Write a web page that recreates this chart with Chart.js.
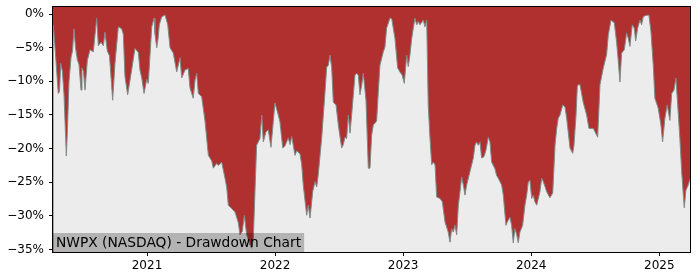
<!DOCTYPE html>
<html>
<head>
<meta charset="utf-8">
<script src="https://cdn.jsdelivr.net/npm/chart.js@4"></script>
<style>
  html, body { margin: 0; padding: 0; background: #fff; }
</style>
</head>
<body>
<canvas id="ddChart" width="700" height="280"></canvas>
<script>
// decimal years and drawdown (%)
const years = [
  2020.268, 2020.282, 2020.307, 2020.317, 2020.326, 2020.339, 2020.352, 2020.360, 2020.370, 2020.379,
  2020.391, 2020.407, 2020.418, 2020.430, 2020.442, 2020.456, 2020.469, 2020.485, 2020.492, 2020.504,
  2020.516, 2020.534, 2020.555, 2020.581, 2020.607, 2020.620, 2020.641, 2020.659, 2020.672, 2020.690,
  2020.707, 2020.732, 2020.750, 2020.776, 2020.802, 2020.815, 2020.828, 2020.849, 2020.881, 2020.906,
  2020.932, 2020.945, 2020.959, 2020.977, 2020.998, 2021.010, 2021.037, 2021.055, 2021.062, 2021.076,
  2021.086, 2021.096, 2021.115, 2021.141, 2021.162, 2021.180, 2021.205, 2021.232, 2021.258, 2021.271,
  2021.297, 2021.322, 2021.336, 2021.361, 2021.375, 2021.388, 2021.401, 2021.427, 2021.453, 2021.479,
  2021.505, 2021.518, 2021.544, 2021.557, 2021.583, 2021.609, 2021.622, 2021.635, 2021.661, 2021.687,
  2021.713, 2021.726, 2021.744, 2021.760, 2021.778, 2021.804, 2021.817, 2021.830, 2021.843, 2021.856,
  2021.882, 2021.896, 2021.908, 2021.929, 2021.947, 2021.968, 2021.986, 2021.999, 2022.025, 2022.038,
  2022.060, 2022.077, 2022.103, 2022.117, 2022.130, 2022.156, 2022.169, 2022.195, 2022.208, 2022.220,
  2022.247, 2022.259, 2022.273, 2022.294, 2022.312, 2022.325, 2022.337, 2022.364, 2022.390, 2022.403,
  2022.416, 2022.429, 2022.442, 2022.455, 2022.476, 2022.494, 2022.520, 2022.533, 2022.546, 2022.559,
  2022.572, 2022.585, 2022.598, 2022.624, 2022.637, 2022.650, 2022.663, 2022.676, 2022.689, 2022.710,
  2022.728, 2022.741, 2022.754, 2022.767, 2022.793, 2022.806, 2022.819, 2022.845, 2022.858, 2022.871,
  2022.897, 2022.911, 2022.936, 2022.957, 2022.975, 2022.993, 2023.009, 2023.028, 2023.040, 2023.053,
  2023.067, 2023.092, 2023.106, 2023.118, 2023.131, 2023.157, 2023.170, 2023.184, 2023.196, 2023.210,
  2023.223, 2023.235, 2023.249, 2023.262, 2023.288, 2023.306, 2023.327, 2023.352, 2023.366, 2023.379,
  2023.391, 2023.405, 2023.418, 2023.431, 2023.444, 2023.457, 2023.470, 2023.483, 2023.496, 2023.522,
  2023.548, 2023.561, 2023.574, 2023.587, 2023.600, 2023.613, 2023.631, 2023.647, 2023.665, 2023.678,
  2023.691, 2023.717, 2023.730, 2023.743, 2023.769, 2023.782, 2023.803, 2023.813, 2023.834, 2023.847,
  2023.860, 2023.873, 2023.887, 2023.899, 2023.912, 2023.933, 2023.951, 2023.965, 2023.977, 2023.990,
  2024.004, 2024.016, 2024.029, 2024.043, 2024.068, 2024.082, 2024.094, 2024.107, 2024.121, 2024.146,
  2024.168, 2024.186, 2024.199, 2024.211, 2024.225, 2024.246, 2024.264, 2024.277, 2024.289, 2024.303,
  2024.324, 2024.334, 2024.350, 2024.360, 2024.367, 2024.381, 2024.406, 2024.433, 2024.451, 2024.485,
  2024.498, 2024.519, 2024.537, 2024.563, 2024.589, 2024.602, 2024.623, 2024.649, 2024.667, 2024.680,
  2024.693, 2024.706, 2024.727, 2024.745, 2024.758, 2024.771, 2024.789, 2024.805, 2024.816, 2024.831,
  2024.849, 2024.862, 2024.875, 2024.894, 2024.919, 2024.935, 2024.953, 2024.966, 2024.992, 2025.013,
  2025.026, 2025.044, 2025.062, 2025.083, 2025.097, 2025.115, 2025.130, 2025.144, 2025.161, 2025.175,
  2025.195, 2025.208, 2025.226, 2025.240
];
const drawdown = [
  -1.6, -5, -11.8, -11.5, -7.3, -8.5, -12, -16, -21.1, -17,
  -10, -6.4, -5.5, -2.2, -5, -6.8, -7.5, -11.3, -8, -8.5,
  -11.3, -6.9, -5.3, -5.6, -0.6, -4.7, -4.2, -4.7, -2.7, -5.5,
  -6.2, -12.8, -7.3, -1.9, -2.2, -3, -9.3, -12, -8.2, -5.1,
  -5.7, -8.3, -9.5, -11.8, -9.7, -10.3, -1.9, -0.6, -2.9, -5,
  -3.7, -1.6, -0.4, -0.15, -1.6, -5, -5.8, -8.6, -6.5, -9.5,
  -8.3, -8.1, -11, -12.5, -9.8, -8.8, -11.8, -12.3, -15.9, -21,
  -21.8, -22.9, -22.2, -22.5, -22, -24.4, -25.7, -28.4, -28.9, -29.4,
  -31, -32.8, -32.3, -29.9, -32.8, -34.3, -34.8, -33.5, -26.4, -19.5,
  -18.5, -15, -19, -17.5, -17.2, -19.8, -16, -13.2, -15, -16,
  -19.9, -19.6, -18.4, -19.4, -18.2, -21, -20.3, -20.8, -22.4, -25.4,
  -29.9, -28.4, -30.3, -26.4, -24.9, -25.7, -23.9, -18.4, -11.6, -7.9,
  -7.6, -6.1, -7.9, -13.1, -13.5, -16.5, -19.9, -19.4, -18.3, -18.5,
  -15, -17.7, -15, -9.1, -8.8, -9.1, -12, -10.6, -8.8, -12.8,
  -22.9, -22.9, -18, -16.5, -15.9, -11.6, -7.6, -5.6, -4.9, -2.1,
  -0.6, -0.7, -3.6, -8, -8.6, -9.1, -10.3, -6.1, -7.8, -6.1,
  -3.6, -0.6, -1.6, -1.1, -1.6, -0.9, -1.9, -0.9, -13.5, -18.5,
  -22.4, -22, -22.4, -27.2, -27.4, -27.9, -30.9, -32.4, -33.9, -31.9,
  -32.4, -31.4, -32.8, -28.4, -26.4, -24.2, -25.4, -26.9, -25.4, -23.4,
  -21.4, -19.5, -19, -19.5, -19, -21.4, -21.2, -20.2, -18.3, -19,
  -22, -23, -24, -24.4, -25.4, -26.9, -31.4, -30.9, -30.2, -31.4,
  -34, -31.9, -32.8, -34, -32.4, -31.4, -28.4, -26.9, -25, -24.7,
  -27.4, -26.9, -27.9, -28.4, -26.4, -24.4, -24.9, -25.6, -26.4, -27.3,
  -26.6, -19.5, -17, -15.5, -15, -13.5, -13.8, -15.5, -17.5, -19.9,
  -20.7, -19.5, -15, -10.8, -10.5, -10.5, -13.1, -15, -17, -17,
  -17.5, -18.3, -10.5, -8, -6, -3.1, -0.9, -1.3, -4.2, -7,
  -10.1, -5.8, -5.3, -2.8, -3.6, -4.8, -1.6, -2.1, -4, -2.1,
  -0.9, -1.6, -0.4, -0.2, -0.15, -2.6, -7.6, -12.5, -14, -16.5,
  -19, -15.5, -13.5, -15.8, -11.8, -11.3, -9.5, -13.5, -18.5, -23.4,
  -28.8, -26.2, -25.4, -24.5
];
const yTicks = [0, -5, -10, -15, -20, -25, -30, -35];
const xTicks = [2021, 2022, 2023, 2024, 2025];
const chartTitle = 'NWPX (NASDAQ) - Drawdown Chart';

Chart.defaults.font.family = "'DejaVu Sans', sans-serif";
Chart.defaults.font.size = 12;
Chart.defaults.color = '#000';

// red plot background + frame + caption box
const ddPlugin = {
  id: 'ddPlugin',
  beforeDatasetsDraw(chart) {
    const { ctx, chartArea: a } = chart;
    ctx.save();
    ctx.fillStyle = '#b03030';
    ctx.fillRect(a.left, a.top, a.right - a.left, a.bottom - a.top);
    ctx.restore();
  },
  afterDatasetsDraw(chart) {
    const { ctx, chartArea: a } = chart;
    ctx.save();
    ctx.font = "13.8px 'DejaVu Sans'";
    const w = ctx.measureText(chartTitle).width;
    ctx.fillStyle = 'rgba(0, 0, 0, 0.24)';
    ctx.fillRect(a.left, a.bottom - 19, w + 6, 19);
    ctx.fillStyle = '#000';
    ctx.textBaseline = 'middle';
    ctx.fillText(chartTitle, a.left + 3, a.bottom - 9);
    ctx.strokeStyle = '#000';
    ctx.lineWidth = 1;
    ctx.strokeRect(a.left - 0.5, a.top - 0.5, a.right - a.left + 1, a.bottom - a.top + 1);
    ctx.restore();
  }
};

const ctx = document.getElementById('ddChart').getContext('2d');
const ddChart = new Chart(ctx, {
  type: 'line',
  data: {
    datasets: [{
      data: years.map((y, i) => ({ x: y, y: drawdown[i] })),
      borderColor: '#808a8a',
      borderWidth: 1,
      backgroundColor: '#ececec',
      fill: 'start',
      pointRadius: 0,
      tension: 0
    }]
  },
  options: {
    responsive: false,
    animation: false,
    layout: { padding: { top: 7, right: 10, left: 0, bottom: 0 } },
    plugins: {
      legend: { display: false },
      tooltip: { enabled: false }
    },
    scales: {
      x: {
        type: 'linear',
        min: 2020.266,
        max: 2025.240,
        afterBuildTicks: scale => { scale.ticks = xTicks.map(v => ({ value: v })); },
        afterFit: scale => { scale.height = 28; scale.paddingLeft = 0; scale.paddingRight = 0; },
        ticks: { autoSkip: false, maxRotation: 0, padding: 3, callback: v => String(v) },
        grid: { drawOnChartArea: false, tickLength: 4, tickColor: '#000' },
        border: { color: '#000' }
      },
      y: {
        min: -35.36,
        max: 1.05,
        afterBuildTicks: scale => { scale.ticks = yTicks.map(v => ({ value: v })); },
        afterFit: scale => { scale.width = 53; scale.paddingTop = 0; scale.paddingBottom = 0; },
        ticks: {
          autoSkip: false,
          padding: 5,
          callback: v => (v < 0 ? '\u2212' + Math.abs(v) : String(v)) + '%'
        },
        grid: { drawOnChartArea: false, tickLength: 4, tickColor: '#000' },
        border: { color: '#000' }
      }
    }
  },
  plugins: [ddPlugin]
});
</script>
</body>
</html>
